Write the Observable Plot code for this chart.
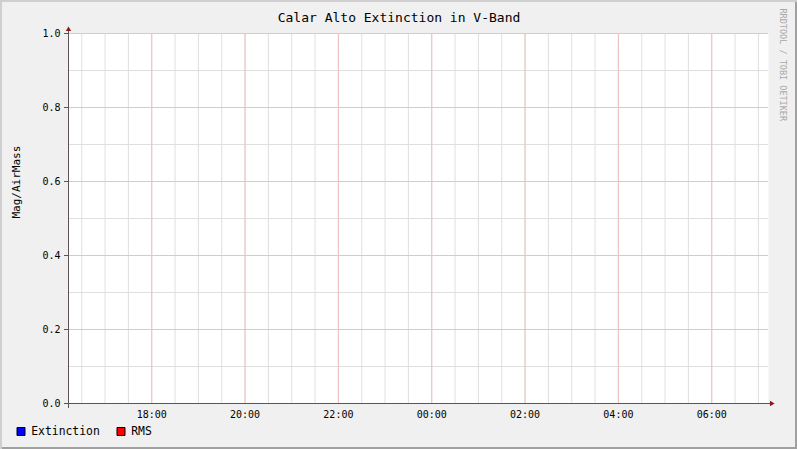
<!DOCTYPE html>
<html><head><meta charset="utf-8">
<script src="https://cdn.jsdelivr.net/npm/d3@7"></script>
<script src="https://cdn.jsdelivr.net/npm/@observablehq/plot@0.6"></script>
<style>
html,body{margin:0;padding:0;background:#fff;}
#chart{position:relative;width:797px;height:449px;background:#f0f0f0;box-shadow:inset 2px 2px 0 #cfcfcf, inset -2px -2px 0 #a0a0a0;overflow:hidden;}
#chart svg{position:absolute;left:0;top:0;}
</style></head><body><div id="chart"></div>
<script>
const title = "Calar Alto Extinction in V-Band";
const yLabel = "Mag/AirMass";
const watermark = "RRDTOOL / TOBI OETIKER";
const timeStart = new Date("2024-01-01T16:13:00Z");
const timeEnd = new Date("2024-01-02T07:13:00Z");
const yDomain = [0, 1];
const yMajorTicks = [0, 0.2, 0.4, 0.6, 0.8, 1.0];
const yMinorTicks = [0.1, 0.3, 0.5, 0.7, 0.9];
const xTickLabels = ["18:00", "20:00", "22:00", "00:00", "02:00", "04:00", "06:00"];
const seriesNames = ["Extinction", "RMS"];
const seriesColors = ["#0000ff", "#ff0000"];
// No measurements in the displayed period
const extinction = [];
const rms = [];

const xMajor = d3.utcHour.every(2).range(timeStart, timeEnd);
const xMinor = d3.utcMinute.every(30).range(timeStart, timeEnd);

const axisColor = "#5f5252";
const arrowColor = "#8b1a1a";
const minorColor = "#dfdfdf";
const majorColor = "#efc0c0";
const mono = "'DejaVu Sans Mono', monospace";

const plot = Plot.plot({
  width: 797, height: 449,
  marginLeft: 68, marginRight: 29, marginTop: 33, marginBottom: 46,
  style: {background: "transparent", fontFamily: mono, fontSize: "10px", color: "#000", overflow: "visible"},
  x: {type: "utc", domain: [timeStart, timeEnd]},
  y: {domain: yDomain},
  marks: [
    Plot.frame({fill: "white", stroke: "none"}),
    Plot.ruleX(xMinor, {stroke: minorColor}),
    Plot.ruleY(yMinorTicks, {stroke: minorColor}),
    Plot.ruleX(xMajor, {stroke: majorColor}),
    Plot.ruleY(yMajorTicks, {stroke: majorColor}),
    Plot.line(extinction, {x: "time", y: "value", stroke: seriesColors[0]}),
    Plot.line(rms, {x: "time", y: "value", stroke: seriesColors[1]}),
    Plot.axisY({ticks: yMajorTicks, tickSize: 4, tickPadding: 4, tickFormat: d3.format(".1f"), label: null, stroke: axisColor, fill: "#000"}),
    Plot.axisX({ticks: xMajor, tickSize: 0, tickPadding: 7, tickFormat: (d, i) => xTickLabels[i], label: null, fill: "#000"}),
    Plot.ruleY([0], {stroke: axisColor, insetLeft: -3, insetRight: -2}),
    Plot.ruleX([timeStart], {stroke: axisColor, insetTop: -3, insetBottom: -5}),
    Plot.dot([{x: timeEnd, y: 0}], {x: "x", y: "y", symbol: "triangle", rotate: 90, r: 2, fill: arrowColor, stroke: "none", dx: 3}),
    Plot.dot([{x: timeStart, y: 1}], {x: "x", y: "y", symbol: "triangle", r: 2, fill: arrowColor, stroke: "none", dy: -4}),
    Plot.text([title], {text: d => d, frameAnchor: "top", dx: -19.5, dy: -12, lineAnchor: "bottom", fontSize: 13, fill: "#000"}),
    Plot.text([yLabel], {text: d => d, frameAnchor: "left", dx: -52.5, rotate: -90, fontSize: 11, fill: "#000"}),
    Plot.text([watermark], {text: d => d, frameAnchor: "top-right", dx: 18, dy: -25, rotate: 90, textAnchor: "start", fontSize: 8.5, fill: "#a8a8a8"}),
    Plot.dot([seriesNames[0]], {frameAnchor: "bottom-left", dx: -47.5, dy: 28, symbol: "square", r: 4.5, fill: seriesColors[0], stroke: "#000", strokeWidth: 1}),
    Plot.text([seriesNames[0]], {text: d => d, frameAnchor: "bottom-left", dx: -37.3, dy: 31.7, lineAnchor: "bottom", textAnchor: "start", fontSize: 11.4, fill: "#000"}),
    Plot.dot([seriesNames[1]], {frameAnchor: "bottom-left", dx: 52.5, dy: 28, symbol: "square", r: 4.5, fill: seriesColors[1], stroke: "#000", strokeWidth: 1}),
    Plot.text([seriesNames[1]], {text: d => d, frameAnchor: "bottom-left", dx: 62.7, dy: 31.7, lineAnchor: "bottom", textAnchor: "start", fontSize: 11.4, fill: "#000"})
  ]
});
document.getElementById("chart").appendChild(plot);
</script>
</body></html>
